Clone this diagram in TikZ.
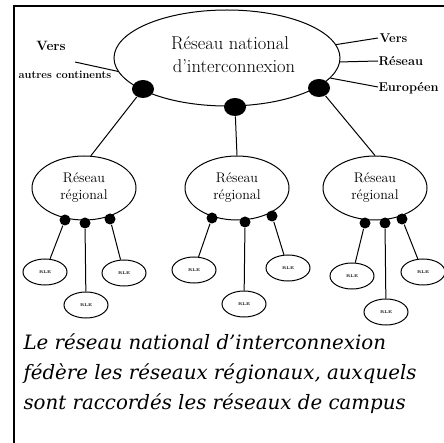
\documentclass[tikz,border=0pt]{standalone}
\usepackage{fontspec}
\newfontfamily\capfont{DejaVu Serif}
\usetikzlibrary{shapes.geometric}
\begin{document}
\begin{tikzpicture}[x=1pt,y=-1pt,line width=1pt,
  natl/.style={draw,ellipse,inner sep=0pt,minimum width=226pt,minimum height=96pt},
  nattxt/.style={inner sep=0pt,anchor=base,font=\fontsize{18.5}{20}\selectfont},
  reg/.style={draw,ellipse,inner sep=0pt,minimum width=104pt,minimum height=64pt,align=center,font=\fontsize{14}{17}\selectfont},
  natdot/.style={fill,ellipse,minimum width=22pt,minimum height=18pt,inner sep=0pt},
  regdot/.style={fill,circle,minimum size=11pt,inner sep=0pt},
  campus/.style={draw,ellipse,minimum width=44pt,minimum height=26pt,inner sep=0pt,font=\fontsize{4}{4}\selectfont\bfseries},
  lab/.style={inner sep=0pt,font=\fontsize{12.8}{13}\selectfont\bfseries},
  captxt/.style={inner sep=0pt,anchor=base west,font=\fontsize{19.8}{26}\selectfont\capfont\itshape}]
\useasboundingbox (0,0) rectangle (444,443);
% frame
\draw[line width=1.3pt] (444,6) -- (14,6) -- (14,443);
% national
\node[natl] (nat) at (227,58) {};
\node[nattxt] (nt1) at (230,50) {R\'eseau national};
\node[nattxt] (nt2) at (234,73) {d'interconnexion};
% left labels
\coordinate (lv) at (75,62);
\draw (nat.187) -- (lv);
\node[lab,font=\fontsize{13.5}{14}\selectfont\bfseries] (vers1) at (51,46) {Vers};
\node[lab,font=\fontsize{11}{11}\selectfont\bfseries] (autres) at (65,75) {autres continents};
% right labels
\coordinate (r1) at (378,38);
\coordinate (r2) at (378,61);
\coordinate (r3) at (378,87);
\draw (nat.7) -- (r1);
\draw (nat.-2) -- (r2);
\draw (nat.-11) -- (r3);
\node[lab,anchor=west] (vers2) at (379,38) {Vers};
\node[lab,anchor=west] (reseau) at (378,61) {R\'eseau};
\node[lab,anchor=west] (europ) at (378,88) {Europ\'een};
% regional
\node[reg] (rg1) at (84,188) {R\'eseau\\r\'egional};
\node[reg] (rg2) at (237,188) {R\'eseau\\r\'egional};
\node[reg] (rg3) at (375,188) {R\'eseau\\r\'egional};
% national dots
\node[natdot] (nd1) at (143,89) {};
\node[natdot] (nd2) at (235,107) {};
\node[natdot] (nd3) at (319,88) {};
\draw (nd1) -- (rg1.78);
\draw (nd2) -- (rg2.north);
\draw (nd3) -- (rg3.north);
% regional dots
\node[regdot] (a1) at (65,220) {};
\node[regdot] (a2) at (85,223) {};
\node[regdot] (a3) at (110,219) {};
\node[regdot] (b1) at (212,218) {};
\node[regdot] (b2) at (245,222) {};
\node[regdot] (b3) at (272,216) {};
\node[regdot] (c1) at (365,223) {};
\node[regdot] (c2) at (385,223) {};
\node[regdot] (c3) at (402,219) {};
% campus
\node[campus] (ca1) at (45,272) {RLE};
\node[campus] (ca2) at (86,305) {RLE};
\node[campus] (ca3) at (124,273) {RLE};
\node[campus] (cb1) at (194,270) {RLE};
\node[campus] (cb2) at (244,304) {RLE};
\node[campus] (cb3) at (288,268) {RLE};
\node[campus] (cc1) at (352,276) {RLE};
\node[campus] (cc2) at (386,312) {RLE};
\node[campus] (cc3) at (423,272) {RLE};
\draw (a1) -- (ca1);
\draw (a2) -- (ca2);
\draw (a3) -- (ca3);
\draw (b1) -- (cb1);
\draw (b2) -- (cb2);
\draw (b3) -- (cb3);
\draw (c1) -- (cc1);
\draw (c2) -- (cc2);
\draw (c3) -- (cc3);
% caption
\node[captxt] (l1) at (23,349) {Le r\'eseau national d’interconnexion};
\node[captxt] (l2) at (23,379) {f\'ed\`ere les r\'eseaux r\'egionaux, auxquels};
\node[captxt] (l3) at (23,409) {sont raccord\'es les r\'eseaux de campus};
\end{tikzpicture}
\end{document}
